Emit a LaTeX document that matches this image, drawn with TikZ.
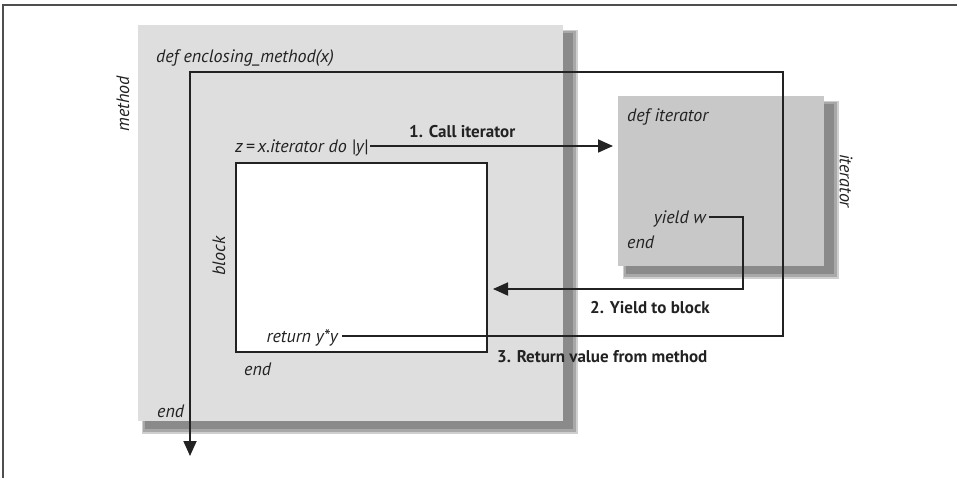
\documentclass[tikz,border=0pt]{standalone}
\usepackage{fontspec}
\setmainfont{PT Sans}
\usetikzlibrary{arrows.meta}
\definecolor{methodgray}{HTML}{DEDEDE}
\definecolor{itergray}{HTML}{C8C8C8}
\definecolor{shadowdark}{HTML}{8A8A8A}
\definecolor{shadowmid}{HTML}{A8A8A8}
\definecolor{shadowlight}{HTML}{CFCFCF}
\definecolor{ink}{HTML}{222222}
\tikzset{
  code/.style={inner sep=0pt, font=\fontsize{18}{20}\selectfont\itshape, text=ink},
  steplabel/.style={inner sep=0pt, font=\fontsize{17}{20}\selectfont\bfseries, text=ink},
  flow/.style={draw=ink, line width=1.8pt},
  tip/.style={-{Triangle[length=15pt,width=13pt]}},
  frameline/.style={draw=ink!80, line width=1.1pt},
}
\begin{document}
\begin{tikzpicture}[x=1pt,y=-1pt]
\useasboundingbox (0,0) rectangle (957,478);
% frame (top and left only)
\draw[frameline] (957,5) -- (3,5) -- (3,478);
% method box shadow and box
\fill[shadowlight] (142,30) rectangle (578,434);
\fill[shadowmid] (143,31) rectangle (576,432);
\fill[shadowdark] (145,33) rectangle (573,429);
\fill[methodgray] (138,25) rectangle (563,421);
% iterator box shadow and box
\fill[shadowlight] (623,101) rectangle (839,279);
\fill[shadowmid] (624,102) rectangle (837,277);
\fill[shadowdark] (626,104) rectangle (834,274);
\fill[itergray] (618,96) rectangle (824,266);
% block box
\node[draw=ink, line width=1.8pt, fill=white, minimum width=251pt, minimum height=189pt, inner sep=0pt, anchor=north west] (blockbox) at (235,162) {};
% texts
\node[code, anchor=base west] (defm) at (156,63) {def enclosing\_method(x)};
\node[code, rotate=90] (lmethod) at (123,104) {method};
\node[code, anchor=base west] (zcall) at (235,153) {z\,=\,x.iterator do |y|};
\node[steplabel, anchor=base west] (l1) at (409,138) {1. Call iterator};
\node[code, anchor=base west] (defi) at (627,122) {def iterator};
\node[code, rotate=-90] (literator) at (846,181) {iterator};
\node[code, anchor=base east] (yieldw) at (706,223) {yield w};
\node[code, anchor=base west] (iend) at (627,248) {end};
\node[steplabel, anchor=base west] (l2) at (590,313) {2. Yield to block};
\node[code, rotate=90] (lblock) at (219,256) {block};
\node[code, anchor=base east] (ret) at (338,342) {return y*y};
\node[code, anchor=base west] (bend) at (244,375) {end};
\node[steplabel, anchor=base west] (l3) at (497,362) {3. Return value from method};
\node[code, anchor=base west] (mend) at (157,417) {end};
% connector coordinates
\coordinate (c1end) at (613,146);
\coordinate (y1) at (743,217);
\coordinate (y2) at (743,289);
\coordinate (y3) at (493,289);
\coordinate (r1) at (783,336);
\coordinate (r2) at (783,72);
\coordinate (r3) at (190,72);
\coordinate (r4) at (190,456);
% connectors
\draw[flow, tip] (zcall.east |- c1end) ++(2,0) -- (c1end);
\draw[flow, tip] ([xshift=3pt]yieldw.east |- y1) -- (y1) -- (y2) -- (y3);
\draw[flow, tip] ([xshift=4pt]ret.east |- r1) -- (r1) -- (r2) -- (r3) -- (r4);
\end{tikzpicture}
\end{document}
